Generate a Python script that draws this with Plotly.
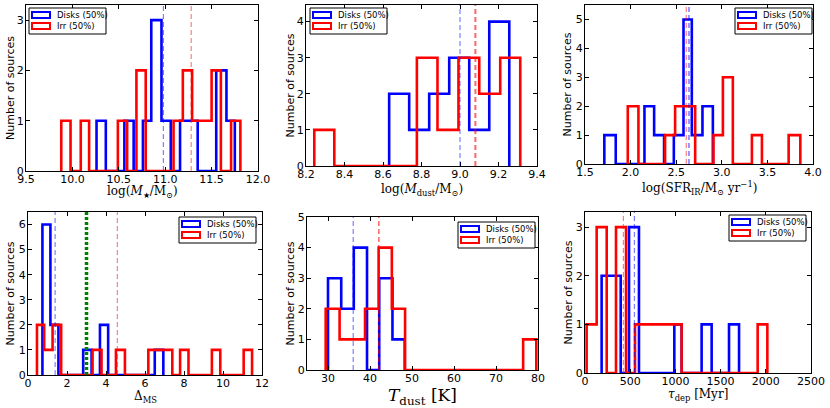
import plotly.graph_objects as go

W, H = 830, 408
BLUE = "#0000ff"
RED = "#ff0000"
GREEN = "#008000"

# ---------------- data (bin edges / counts) ----------------
# Panel 1: log(M*/Msun)
mstar_disk_edges = [10.26, 10.36, 10.56, 10.66, 10.76, 10.85, 10.96, 11.06, 11.16, 11.35, 11.55, 11.66, 11.75]
mstar_disk_counts = [1, 0, 1, 0, 1, 3, 1, 0, 1, 0, 2, 1]
mstar_irr_edges = [9.88, 9.98, 10.09, 10.18, 10.49, 10.59, 10.69, 10.79, 11.09, 11.19, 11.29, 11.50, 11.60, 11.71, 11.81]
mstar_irr_counts = [1, 0, 1, 0, 1, 0, 2, 0, 1, 2, 1, 2, 0, 1]
mstar_means = [10.98, 11.28]

# Panel 2: log(Mdust/Msun)
mdust_disk_edges = [8.632, 8.736, 8.840, 8.944, 9.048, 9.152, 9.256]
mdust_disk_counts = [2, 1, 2, 3, 1, 4]
mdust_irr_edges = [8.243, 8.347, 8.776, 8.883, 8.992, 9.100, 9.209, 9.313]
mdust_irr_counts = [1, 0, 3, 1, 3, 2, 3]
mdust_means = [9.00, 9.08]

# Panel 3: log(SFR_IR)
sfr_disk_edges = [1.712, 1.837, 2.152, 2.258, 2.367, 2.474, 2.580, 2.671, 2.788, 2.902]
sfr_disk_counts = [1, 0, 2, 1, 0, 1, 5, 1, 2]
sfr_irr_edges = [1.969, 2.086, 2.378, 2.488, 2.708, 2.909, 3.012, 3.121, 3.330, 3.440, 3.733, 3.861]
sfr_irr_counts = [2, 0, 1, 2, 0, 1, 3, 0, 1, 0, 1]
sfr_means = [2.64, 2.61]

# Panel 4: Delta_MS
dms_disk_edges = [0.74, 1.15, 1.56, 2.83, 3.26, 3.69, 4.11, 6.50, 6.94]
dms_disk_counts = [6, 2, 0, 1, 0, 2, 0, 1]
dms_irr_edges = [0.46, 0.83, 1.26, 1.70, 3.31, 3.77, 4.51, 4.97, 6.17, 7.40, 7.80, 8.23, 9.43, 9.86, 11.06, 11.49]
dms_irr_counts = [2, 1, 2, 0, 1, 0, 1, 0, 1, 0, 1, 0, 1, 0, 1]
dms_means = [1.39, 4.58]
dms_starburst_limit = 3.0

# Panel 5: T_dust
tdust_disk_edges = [30.0, 33.15, 36.14, 39.29, 42.2, 45.35, 48.27]
tdust_disk_counts = [3, 2, 4, 0, 3, 1]
tdust_irr_edges = [29.45, 32.76, 38.82, 42.05, 45.2, 48.35, 76.46, 79.6]
tdust_irr_counts = [2, 1, 2, 4, 2, 0, 1]
tdust_means = [36.0, 42.1]

# Panel 6: tau_dep
tdep_disk_edges = [184, 395, 487, 597, 988, 1069, 1290, 1401, 1593, 1704]
tdep_disk_counts = [2, 0, 3, 0, 1, 0, 1, 0, 1]
tdep_irr_edges = [18, 129, 240, 343, 454, 553, 1069, 1910, 2017]
tdep_irr_counts = [1, 3, 0, 3, 0, 1, 0, 1]
tdep_means = [546, 424]

legend_labels = ["Disks (50%)", "Irr (50%)"]
ytitle = "Number of sources"

# ---------------- layout description (pixels) ----------------
panels = [
    dict(disk=(mstar_disk_edges, mstar_disk_counts), irr=(mstar_irr_edges, mstar_irr_counts),
         means=mstar_means, mean_w=(1, 1),
         box=(26, 5, 258, 171), xr=[9.5, 12.0], yr=[0, 3.3], dtick=0.5, tick0=9.5, fmt=".1f",
         xt="log(<i>M</i><sub>★</sub>/M<sub>⊙</sub>)", xts=12, xty=192, yty=10, leg=(29, 8)),
    dict(disk=(mdust_disk_edges, mdust_disk_counts), irr=(mdust_irr_edges, mdust_irr_counts),
         means=mdust_means, mean_w=(1, 2),
         box=(306, 5, 537, 166), xr=[8.2, 9.4], yr=[0, 4.46], dtick=0.2, tick0=8.2, fmt=".1f",
         xt="log(<i>M</i><sub>dust</sub>/M<sub>⊙</sub>)", xts=12, xty=190, yty=290, leg=(310, 8)),
    dict(disk=(sfr_disk_edges, sfr_disk_counts), irr=(sfr_irr_edges, sfr_irr_counts),
         means=sfr_means, mean_w=(1.3, 1),
         box=(585, 5, 813, 164), xr=[1.5, 4.0], yr=[0, 5.5], dtick=0.5, tick0=1.5, fmt=".1f",
         xt="log(SFR<sub>IR</sub>/M<sub>⊙</sub> yr<sup>−1</sup>)", xts=12, xty=188, yty=567, leg=(735, 8)),
    dict(disk=(dms_disk_edges, dms_disk_counts), irr=(dms_irr_edges, dms_irr_counts),
         means=dms_means, mean_w=(1, 1),
         box=(28, 212, 262, 375), xr=[0, 12], yr=[0, 6.5], dtick=2, tick0=0, fmt="d",
         xt="Δ<sub>MS</sub>", xts=12, xty=397, yty=10, leg=(179, 217)),
    dict(disk=(tdust_disk_edges, tdust_disk_counts), irr=(tdust_irr_edges, tdust_irr_counts),
         means=tdust_means, mean_w=(1, 1.5),
         box=(307, 217, 538, 370), xr=[25, 80], yr=[0, 5], dtick=10, tick0=30, fmt="d",
         xt="<i>T</i><sub>dust</sub> [K]", xts=17, xty=396, yty=290, leg=(458, 222)),
    dict(disk=(tdep_disk_edges, tdep_disk_counts), irr=(tdep_irr_edges, tdep_irr_counts),
         means=tdep_means, mean_w=(1, 1),
         box=(585, 212, 811, 373), xr=[0, 2500], yr=[0, 3.31], dtick=500, tick0=0, fmt="d",
         xt="<i>τ</i><sub>dep</sub> [Myr]", xts=12, xty=395, yty=568, leg=(729, 215)),
]


def step_xy(edges, counts):
    xs = [edges[0]] + list(edges)
    ys = [0] + list(counts) + [0]
    return xs, ys


fig = go.Figure()
shapes = []
annotations = []
SANS = "DejaVu Sans"
SERIF = "DejaVu Serif"

for i, p in enumerate(panels, start=1):
    sfx = "" if i == 1 else str(i)
    xa, ya = "x" + sfx, "y" + sfx
    x0, y0, x1, y1 = p["box"]
    # histograms
    for (edges, counts), col in ((p["disk"], BLUE), (p["irr"], RED)):
        xs, ys = step_xy(edges, counts)
        fig.add_trace(go.Scatter(x=xs, y=ys, mode="lines", line=dict(color=col, width=2.6, shape="hv"),
                                 xaxis=xa, yaxis=ya, showlegend=False, hoverinfo="skip"))
    # mean lines
    for m, col, w in ((p["means"][0], BLUE, p["mean_w"][0]), (p["means"][1], RED, p["mean_w"][1])):
        shapes.append(dict(type="line", xref=xa, yref=ya + " domain", x0=m, x1=m, y0=0, y1=1,
                           line=dict(color=col, width=w, dash="5px,3px"), opacity=0.6, layer="above"))
    if i == 4:
        shapes.append(dict(type="line", xref=xa, yref=ya + " domain", x0=dms_starburst_limit,
                           x1=dms_starburst_limit, y0=0, y1=1,
                           line=dict(color=GREEN, width=3.5, dash="3px,2px"), layer="above"))
    axis_common = dict(showline=True, linecolor="black", linewidth=1, mirror="ticks", ticks="inside",
                       ticklen=4, tickwidth=1, tickcolor="black", showgrid=False, zeroline=False,
                       tickfont=dict(family=SANS, size=11, color="black"), automargin=False,
                       ticklabeloverflow="allow")
    fig.layout["xaxis" + sfx] = dict(
        domain=[x0 / W, x1 / W], anchor=ya, range=p["xr"], tick0=p["tick0"], dtick=p["dtick"],
        tickformat=p["fmt"], ticklabelstandoff=-2, **axis_common)
    fig.layout["yaxis" + sfx] = dict(
        domain=[1 - y1 / H, 1 - y0 / H], anchor=xa, range=p["yr"], tick0=0, dtick=1,
        ticklabelstandoff=-1, **axis_common)
    # axis titles
    annotations.append(dict(xref=xa + " domain", yref="paper", x=0.5, y=1 - p["xty"] / H, text=p["xt"],
                            showarrow=False, xanchor="center", yanchor="middle",
                            font=dict(family=SERIF, size=p["xts"], color="black")))
    annotations.append(dict(xref="paper", yref=ya + " domain", x=p["yty"] / W, y=0.5, text=ytitle,
                            textangle=-90, showarrow=False, xanchor="center", yanchor="middle",
                            font=dict(family=SANS, size=11, color="black")))
    # legend (box, outline patches, labels)
    lx, ly = p["leg"]
    lw, lh = 77, 26
    shapes.append(dict(type="rect", xref="paper", yref="paper", x0=lx / W, x1=(lx + lw) / W,
                       y0=1 - (ly + lh) / H, y1=1 - ly / H, line=dict(color="black", width=1),
                       fillcolor="white", layer="above"))
    for k, col in enumerate((BLUE, RED)):
        cy = ly + 7 + k * 11
        shapes.append(dict(type="rect", xref="paper", yref="paper", x0=(lx + 3) / W, x1=(lx + 21) / W,
                           y0=1 - (cy + 3) / H, y1=1 - (cy - 3) / H, line=dict(color=col, width=2),
                           fillcolor="rgba(0,0,0,0)", layer="above"))
        annotations.append(dict(xref="paper", yref="paper", x=(lx + 26) / W, y=1 - cy / H,
                                text=legend_labels[k], showarrow=False, xanchor="left", yanchor="middle",
                                font=dict(family=SANS, size=8.5, color="black")))

fig.update_layout(width=W, height=H, margin=dict(l=0, r=0, t=0, b=0), plot_bgcolor="white",
                  paper_bgcolor="white", shapes=shapes, annotations=annotations, showlegend=False,
                  font=dict(family=SANS, color="black"))
fig.write_html("out.html", config={"displayModeBar": False},
               post_script="document.body.style.margin='0';document.body.style.overflow='hidden';")
